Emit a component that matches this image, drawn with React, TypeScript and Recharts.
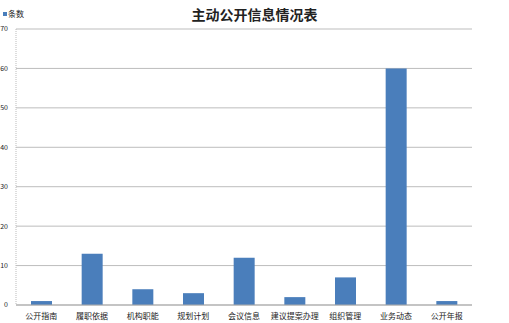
import React from "react";
import { BarChart, Bar, XAxis, YAxis, CartesianGrid } from "recharts";

const categories = ["公开指南", "履职依据", "机构职能", "规划计划", "会议信息", "建议提案办理", "组织管理", "业务动态", "公开年报"];
const counts = [1, 13, 4, 3, 12, 2, 7, 60, 1];
const yTicks = [0, 10, 20, 30, 40, 50, 60, 70];
const seriesName = "条数";

const data = categories.map((name, i) => ({ name, [seriesName]: counts[i] }));

const font = "'Noto Sans CJK SC', sans-serif";
const barColor = "#4a7ebb";

export default function App() {
    return (
        <div style={{ position: "absolute", left: 0, top: 0, width: 509, height: 323, background: "#fff" }}>
            <div
                style={{
                    position: "absolute",
                    top: 4,
                    left: 0,
                    width: 509,
                    textAlign: "center",
                    fontFamily: font,
                    fontWeight: "bold",
                    fontSize: 14,
                    lineHeight: "20px",
                    color: "#222"
                }}
            >
                主动公开信息情况表
            </div>
            {/* legend, top left */}
            <div
                style={{
                    position: "absolute",
                    top: 9,
                    left: 3,
                    fontFamily: font,
                    fontSize: 8,
                    lineHeight: "10px",
                    color: "#222",
                    display: "flex",
                    alignItems: "center"
                }}
            >
                <span style={{ display: "inline-block", width: 4, height: 4, background: barColor, marginRight: 1 }} />
                {seriesName}
            </div>
            <BarChart
                width={509}
                height={323}
                data={data}
                barSize={21}
                margin={{ top: 29, right: 37, bottom: 0, left: 2 }}
            >
                <CartesianGrid vertical={false} stroke="#bdbdbd" />
                <XAxis
                    dataKey="name"
                    height={18}
                    interval={0}
                    tickLine={false}
                    stroke="#aaa"
                    tick={{ fontSize: 8, fill: "#222", fontFamily: font }}
                />
                <YAxis
                    width={14}
                    domain={[0, 70]}
                    ticks={yTicks}
                    tickLine={false}
                    stroke="#bbb"
                    strokeDasharray="1 1"
                    tick={{ fontSize: 7, fill: "#222", fontFamily: font }}
                />
                <Bar dataKey={seriesName} fill={barColor} isAnimationActive={false} />
            </BarChart>
        </div>
    );
}
